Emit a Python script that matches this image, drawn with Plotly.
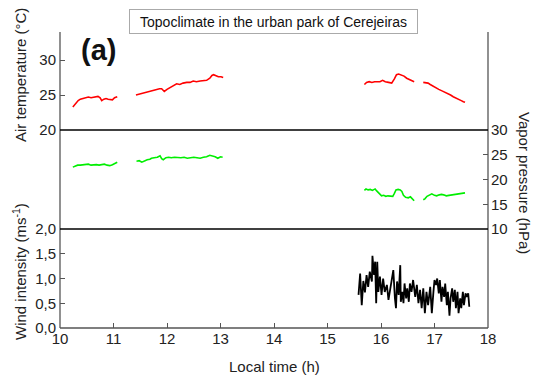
import plotly.graph_objects as go

# Air temperature (°C); None separates the logging sessions
temp_time = [10.24, 10.27, 10.30, 10.34, 10.38, 10.43, 10.48, 10.53, 10.58, 10.63, 10.67, 10.71, 10.75, 10.78,
             10.82, 10.86, 10.90, 10.94, 10.98, 11.02, 11.07, None,
             11.42, 11.47, 11.53, 11.58, 11.62, 11.68, 11.74, 11.81, 11.86, 11.90, 11.95, 12.00, 12.06, 12.12,
             12.18, 12.24, 12.30, 12.37, 12.43, 12.49, 12.55, 12.62, 12.68, 12.74, 12.80, 12.84, 12.87, 12.92,
             12.96, 13.01, 13.05, None,
             15.69, 15.73, 15.78, 15.83, 15.88, 15.93, 15.98, 16.03, 16.08, 16.14, 16.20, 16.25, 16.29, 16.33,
             16.38, 16.43, 16.48, 16.53, 16.58, 16.62, None,
             16.79, 16.83, 16.88, 16.92, 16.96, 17.00, 17.04, 17.08, 17.15, 17.20, 17.25, 17.30, 17.35, 17.40,
             17.45, 17.50, 17.54, 17.57]
temp_vals = [23.3, 23.6, 23.9, 24.2, 24.4, 24.5, 24.6, 24.7, 24.6, 24.7, 24.7, 24.8, 24.6, 24.2,
             24.4, 24.5, 24.4, 24.4, 24.3, 24.6, 24.75, None,
             25.0, 25.1, 25.3, 25.4, 25.5, 25.6, 25.7, 25.8, 25.9, 25.9, 25.5, 25.8, 26.1, 26.3,
             26.6, 26.5, 26.7, 26.8, 26.8, 27.0, 26.9, 27.0, 27.0, 27.1, 27.4, 27.8, 27.9, 27.7,
             27.6, 27.6, 27.5, None,
             26.5, 26.8, 26.9, 26.8, 26.9, 26.9, 26.9, 27.1, 26.9, 26.8, 26.7, 27.3, 27.9, 28.0,
             27.9, 27.7, 27.4, 27.2, 27.0, 26.9, None,
             26.8, 26.8, 26.7, 26.5, 26.3, 26.1, 25.95, 25.8, 25.55, 25.4, 25.2, 25.0, 24.75, 24.6,
             24.4, 24.2, 24.05, 23.95]

# Vapor pressure (hPa)
vp_time = [10.24, 10.28, 10.33, 10.38, 10.43, 10.48, 10.53, 10.58, 10.63, 10.68, 10.73, 10.78, 10.83, 10.88,
           10.93, 10.98, 11.03, 11.07, None,
           11.43, 11.48, 11.53, 11.58, 11.63, 11.68, 11.71, 11.76, 11.82, 11.87, 11.90, 11.93, 11.98, 12.03,
           12.08, 12.14, 12.20, 12.26, 12.32, 12.38, 12.44, 12.50, 12.56, 12.62, 12.68, 12.74, 12.80, 12.85,
           12.90, 12.95, 13.00, 13.04, None,
           15.69, 15.72, 15.76, 15.80, 15.84, 15.89, 15.92, 15.95, 15.98, 16.01, 16.05, 16.09, 16.13, 16.17,
           16.22, 16.25, 16.28, 16.32, 16.36, 16.39, 16.42, 16.46, 16.51, 16.55, 16.59, 16.62, None,
           16.79, 16.82, 16.86, 16.90, 16.95, 17.00, 17.04, 17.09, 17.13, 17.17, 17.22, 17.27, 17.32, 17.37,
           17.41, 17.46, 17.51, 17.57]
vp_vals = [22.5, 22.7, 22.9, 22.9, 23.0, 23.0, 23.1, 22.9, 23.0, 23.0, 22.9, 23.0, 23.1, 22.9,
           22.8, 23.0, 23.3, 23.5, None,
           23.7, 23.8, 23.5, 23.8, 24.0, 24.1, 24.3, 24.4, 24.5, 24.8, 24.2, 24.0, 24.4, 24.5,
           24.4, 24.5, 24.4, 24.4, 24.5, 24.3, 24.4, 24.5, 24.4, 24.3, 24.5, 24.6, 24.9, 24.8,
           24.6, 24.3, 24.6, 24.5, None,
           17.8, 18.1, 17.9, 18.0, 17.8, 18.1, 17.7, 17.3, 16.9, 16.7, 16.8, 16.6, 16.7, 16.6,
           16.6, 17.2, 17.9, 18.0, 17.9, 17.6, 16.8, 16.4, 16.3, 16.5, 16.0, 15.7, None,
           15.9, 16.1, 16.6, 16.9, 17.1, 16.8, 16.7, 16.9, 17.0, 16.9, 16.7, 16.8, 16.9, 17.0,
           17.1, 17.2, 17.2, 17.3]

# Wind intensity (m/s)
wind_time = [15.58, 15.61, 15.64, 15.67, 15.70, 15.73, 15.76, 15.79, 15.83, 15.84, 15.87, 15.89, 15.91, 15.93,
             15.95, 15.98, 16.01, 16.04, 16.07, 16.11, 16.14, 16.17, 16.20, 16.23, 16.26, 16.28, 16.30, 16.33,
             16.36, 16.37, 16.40, 16.42, 16.44, 16.47, 16.49, 16.52, 16.54, 16.57, 16.60, 16.64, 16.67, 16.70,
             16.73, 16.76, 16.79, 16.82, 16.85, 16.88, 16.92, 16.95, 16.98, 17.00, 17.03, 17.05, 17.08, 17.10,
             17.13, 17.15, 17.18, 17.20, 17.23, 17.25, 17.28, 17.30, 17.33, 17.35, 17.38, 17.40, 17.43, 17.45,
             17.48, 17.50, 17.53, 17.55, 17.58, 17.60, 17.63, 17.65]
wind_vals = [0.67, 1.10, 0.46, 0.95, 0.72, 1.07, 0.83, 1.14, 0.94, 1.46, 1.07, 1.34, 0.50, 1.34,
             0.73, 1.04, 0.67, 1.00, 0.73, 0.87, 0.57, 0.77, 0.90, 1.17, 0.60, 0.40, 0.94, 0.67,
             1.27, 0.53, 0.73, 0.50, 0.90, 0.60, 0.80, 0.53, 0.90, 0.73, 0.97, 0.63, 0.87, 0.50,
             0.77, 0.40, 0.80, 0.30, 0.73, 0.46, 0.83, 0.30, 0.73, 0.97, 0.87, 1.00, 0.70, 0.97,
             0.53, 0.83, 0.63, 0.90, 0.46, 0.73, 0.25, 0.60, 0.80, 0.53, 0.77, 0.40, 0.73, 0.30,
             0.60, 0.40, 0.73, 0.46, 0.70, 0.63, 0.70, 0.43]

time_ticks = [10, 11, 12, 13, 14, 15, 16, 17, 18]
temp_ticks = [20, 25, 30]
vp_ticks = [10, 15, 20, 25, 30]
wind_ticks = [0.0, 0.5, 1.0, 1.5, 2.0]

FONT = "Liberation Sans, Arial, sans-serif"
TXT = "#222222"
FRAME = "#555555"

fig = go.Figure()
fig.add_trace(go.Scatter(x=temp_time, y=temp_vals, mode="lines", xaxis="x", yaxis="y",
                         line=dict(color="#ff0000", width=1.6), connectgaps=False))
fig.add_trace(go.Scatter(x=vp_time, y=vp_vals, mode="lines", xaxis="x", yaxis="y2",
                         line=dict(color="#00ee00", width=1.6), connectgaps=False))
fig.add_trace(go.Scatter(x=wind_time, y=wind_vals, mode="lines", xaxis="x", yaxis="y3",
                         line=dict(color="#000000", width=1.8)))

b1 = 99 / 296
b2 = 198 / 296

tickcommon = dict(ticks="inside", ticklen=5, tickwidth=1, tickcolor=FRAME, showgrid=False,
                  zeroline=False, showline=False, tickfont=dict(family=FONT, size=15, color=TXT))

fig.update_layout(
    width=539, height=378,
    margin=dict(l=60, r=51, t=32, b=50),
    paper_bgcolor="white", plot_bgcolor="white",
    showlegend=False,
    separators=",.",
    xaxis=dict(domain=[0, 1], range=[10, 18], tickvals=time_ticks, anchor="y3", **tickcommon),
    yaxis=dict(domain=[b2, 1], range=[20, 34], tickvals=temp_ticks, anchor="x", side="left",
               ticklabelstandoff=3, **tickcommon),
    yaxis2=dict(domain=[b1, b2], range=[10, 30], tickvals=vp_ticks, anchor="x", side="right",
                ticklabelstandoff=2, **tickcommon),
    yaxis3=dict(domain=[0, b1], range=[0, 2], tickvals=wind_ticks, tickformat=".1f", anchor="x",
                side="left", ticklabelstandoff=3, **tickcommon),
)

# frame: outer verticals and bottom in grey, panel dividers in black
frame_lines = [
    (0, 0, 0, 1, FRAME), (1, 0, 1, 1, FRAME), (0, 0, 1, 0, FRAME),
    (0, b1, 1, b1, "#000000"), (0, b2, 1, b2, "#000000"),
]
for x0, y0, x1, y1, col in frame_lines:
    fig.add_shape(type="line", xref="paper", yref="paper", x0=x0, y0=y0, x1=x1, y1=y1,
                  line=dict(color=col, width=1.3))


def px_x(px):
    return (px - 60) / 428


def px_y(py):
    return (328 - py) / 296


def label(text, x, y, size=15, angle=0, **kw):
    fig.add_annotation(text=text, xref="paper", yref="paper", x=px_x(x), y=px_y(y),
                       xanchor="center", yanchor="middle", showarrow=False, textangle=angle,
                       font=dict(family=FONT, size=size, color=kw.pop("color", TXT)), **kw)


label("Topoclimate in the urban park of Cerejeiras", 273, 21, size=14, color="#111111",
      width=281, height=17, bordercolor="#aaaaaa", borderwidth=1, borderpad=3, bgcolor="white")
label("<b>(a)</b>", 98, 50, size=29, color="#111111")
label("Air temperature (°C)", 20, 75, angle=-90)
label("Wind intensity (ms<sup>-1</sup>)", 19, 272, angle=-90)
label("Vapor pressure (hPa)", 525, 183, angle=90)
label("Local time (h)", 274, 366)

fig.write_html("out.html")
